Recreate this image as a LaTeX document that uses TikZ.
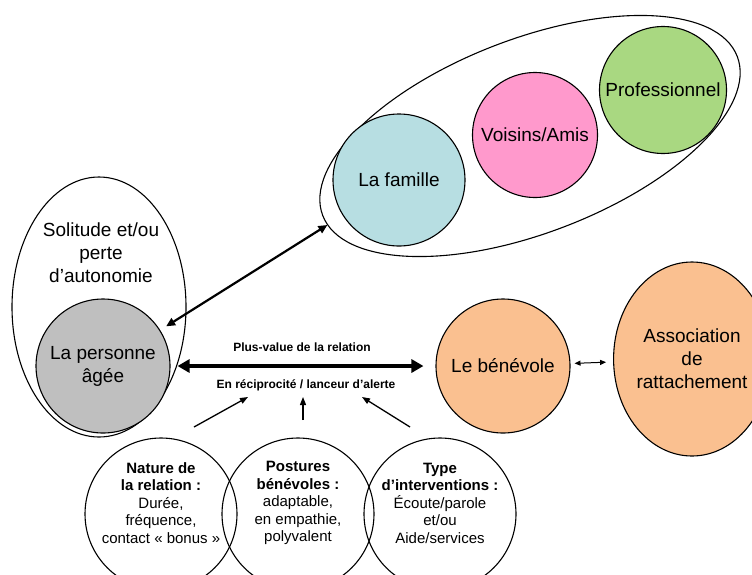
\documentclass[tikz,border=0pt]{standalone}
\usepackage{fontspec}
\setmainfont{Liberation Sans}
\usetikzlibrary{arrows.meta,shapes.geometric}

\definecolor{gris}{RGB}{191,191,191}
\definecolor{bleufam}{RGB}{183,222,226}
\definecolor{rosevois}{RGB}{255,153,204}
\definecolor{vertpro}{RGB}{169,216,129}
\definecolor{orangeben}{RGB}{250,192,144}

\begin{document}
\begin{tikzpicture}[x=1pt,y=1pt,
  every node/.style={align=center, inner sep=0pt, font=\fontsize{19}{23}\selectfont},
  ring/.style={circle, draw, line width=1.1pt, minimum size=#1},
  oval/.style={ellipse, draw, line width=1.1pt},
  small/.style={font=\fontsize{15}{17.5}\selectfont},
  tiny/.style={font=\fontsize{12}{14}\selectfont\bfseries},
  bigarrow/.style={line width=4.5pt, {Triangle[length=12pt,width=13pt]}-{Triangle[length=12pt,width=13pt]}},
  midarrow/.style={line width=2.2pt, {Triangle[length=9pt,width=8pt]}-{Triangle[length=9pt,width=8pt]}},
  thinarrow/.style={line width=1pt, {Triangle[length=6pt,width=5pt]}-{Triangle[length=6pt,width=5pt]}},
  feedarrow/.style={line width=1.3pt, -{Triangle[length=8pt,width=6pt]}}
]
\useasboundingbox (0,0) rectangle (752,-574);

% older person and the surrounding situation
\node[oval, minimum width=174pt, minimum height=260pt] (solitude) at (99,-307) {};
\node (soltext) at (101,-253) {Solitude et/ou\\perte\\d’autonomie};
\node[ring=134pt, fill=gris] (personne) at (103,-366) {La personne\\âgée};

% family / neighbours / professionals group
\node[oval, minimum width=444pt, minimum height=194pt, rotate=21] (entourage) at (530,-136) {};
\node[ring=132pt, fill=bleufam] (famille) at (399,-180) {La famille};
\node[ring=125pt, fill=rosevois] (voisins) at (535,-135) {Voisins/Amis};
\node[ring=127pt, fill=vertpro] (pro) at (663,-90) {Professionnel};

% volunteer and association
\node[ring=134pt, fill=orangeben] (benevole) at (503,-366) {Le bénévole};
\node[oval, fill=orangeben, minimum width=138pt, minimum height=194pt] (asso) at (692,-359) {Association\\de\\rattachement};

% relation labels
\node[tiny] (plusvalue) at (302,-347) {Plus-value de la relation};
\node[tiny] (recip) at (306,-385) {En réciprocité / lanceur d’alerte};

% three dimensions of the relation
\node[ring=152pt] (nature) at (161,-514) {};
\node[ring=152pt] (postures) at (298,-514) {};
\node[ring=152pt] (type) at (440,-514) {};
\node[small] (naturetext) at (161,-503) {\textbf{Nature de}\\\textbf{la relation :}\\Durée,\\fréquence,\\contact « bonus »};
\node[small] (posturestext) at (298,-503) {\textbf{Postures}\\\textbf{bénévoles :}\\adaptable,\\en empathie,\\polyvalent};
\node[small] (typetext) at (440,-503) {\textbf{Type}\\\textbf{d’interventions :}\\Écoute/parole\\et/ou\\Aide/services};

% connectors
\draw[bigarrow, shorten <=7pt, shorten >=12pt] (personne) -- (benevole);
\draw[midarrow, shorten <=7pt, shorten >=18pt] (personne) -- (famille);
\draw[thinarrow, shorten <=4pt, shorten >=7pt] (benevole) -- (asso);

\coordinate (f1) at (194,-427);
\coordinate (f2) at (303,-420);
\coordinate (f3) at (410,-427);
\coordinate (t1) at (248,-397);
\coordinate (t2) at (303,-397);
\coordinate (t3) at (362,-397);
\draw[feedarrow] (f1) -- (t1);
\draw[feedarrow] (f2) -- (t2);
\draw[feedarrow] (f3) -- (t3);
\end{tikzpicture}
\end{document}
